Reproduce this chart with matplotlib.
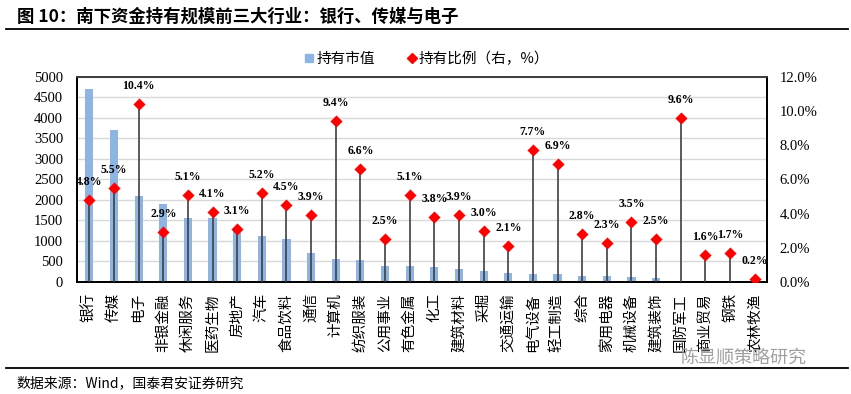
"""南下资金持有规模前三大行业：银行、传媒与电子"""

import matplotlib
matplotlib.use('Agg')
import matplotlib.pyplot as plt
from matplotlib.lines import Line2D
from matplotlib.ticker import FuncFormatter, MultipleLocator
import numpy as np

plt.rcParams['font.family'] = ['Noto Sans CJK SC', 'DejaVu Sans']

# data
industries = ['银行', '传媒', '电子', '非银金融', '休闲服务', '医药生物', '房地产', '汽车',
              '食品饮料', '通信', '计算机', '纺织服装', '公用事业', '有色金属', '化工', '建筑材料',
              '采掘', '交通运输', '电气设备', '轻工制造', '综合', '家用电器', '机械设备',
              '建筑装饰', '国防军工', '商业贸易', '钢铁', '农林牧渔']
market_value = [4700, 3700, 2100, 1900, 1570, 1560, 1250, 1110, 1050, 700, 550, 540, 400, 400,
                360, 310, 280, 220, 185, 185, 155, 140, 120, 90, 35, 30, 10, 5]
hold_pct = [4.8, 5.5, 10.4, 2.9, 5.1, 4.1, 3.1, 5.2, 4.5, 3.9, 9.4, 6.6, 2.5, 5.1, 3.8, 3.9,
            3.0, 2.1, 7.7, 6.9, 2.8, 2.3, 3.5, 2.5, 9.6, 1.6, 1.7, 0.2]

bar_color = '#8DB4E2'
serif = 'Liberation Serif'

fig = plt.figure(figsize=(8.51, 3.94), dpi=100)
ax = fig.add_axes([0.0905, 0.2843, 0.8108, 0.5203])
ax2 = ax.twinx()

x = np.arange(len(industries))
ax.bar(x, market_value, width=0.33, color=bar_color, zorder=2)
ax.set_ylim(0, 5000)
ax.set_xlim(-0.5, len(industries) - 0.5)
ax.yaxis.set_major_locator(MultipleLocator(500))
ax.grid(axis='y', color='#D9D9D9', lw=1, zorder=0)
ax.set_axisbelow(True)
ax.set_xticks(x)
ax.set_xticklabels(industries, rotation=90, fontsize=10.5, va='top', ha='center')
ax.tick_params(axis='x', length=0, pad=8)
ax.tick_params(axis='y', length=0, pad=10)
for lab in ax.get_yticklabels():
    lab.set_family(serif)
    lab.set_fontsize(10.5)

# stems + diamonds on the right axis
ax2.vlines(x, 0, hold_pct, color='#404040', lw=1.2, zorder=3)
ax2.scatter(x, hold_pct, marker='D', s=38, color='#FF0000', zorder=4, linewidths=0)
ax2.set_ylim(0, 12)
ax2.yaxis.set_major_locator(MultipleLocator(2))
ax2.yaxis.set_major_formatter(FuncFormatter(lambda v, _: f'{v:.1f}%'))
ax2.tick_params(axis='y', length=0, pad=9)
for lab in ax2.get_yticklabels():
    lab.set_family(serif)
    lab.set_fontsize(10.5)
for xi, v in zip(x, hold_pct):
    ax2.annotate(f'{v:.1f}%', (xi, v), xytext=(0, 13), textcoords='offset points',
                 ha='center', va='center', fontsize=8.5, fontweight='bold', family=serif)

for a in (ax, ax2):
    for side in ('left', 'right', 'bottom'):
        a.spines[side].set_color('black')
        a.spines[side].set_linewidth(1.3)
    a.spines['top'].set_color('#404040')
    a.spines['top'].set_linewidth(1.3)

# legend
handles = [Line2D([], [], ls='', marker='s', ms=6, color=bar_color),
           Line2D([], [], ls='', marker='D', ms=5, color='#FF0000')]
fig.legend(handles, ['持有市值', '持有比例（右，%）'], loc='center', bbox_to_anchor=(0.502, 0.85),
           ncol=2, frameon=False, fontsize=10.5, handlelength=0.6, handletextpad=0.2,
           columnspacing=2.2)

# title, rules, source
fig.text(0.02, 0.958, '图 10：南下资金持有规模前三大行业：银行、传媒与电子',
         fontsize=12.5, fontweight='bold', va='center', ha='left')
fig.add_artist(Line2D([0.007, 0.996], [0.926, 0.926], color='black', lw=1.3))
fig.add_artist(Line2D([0.007, 0.996], [0.066, 0.066], color='black', lw=1.3))
fig.text(0.019, 0.028, '数据来源：Wind，国泰君安证券研究', fontsize=10, va='center', ha='left')
fig.text(0.80, 0.091, '陈显顺策略研究', fontsize=13, color='#A0A0A0', va='center', ha='left')

fig.savefig('out.png', dpi=100)
